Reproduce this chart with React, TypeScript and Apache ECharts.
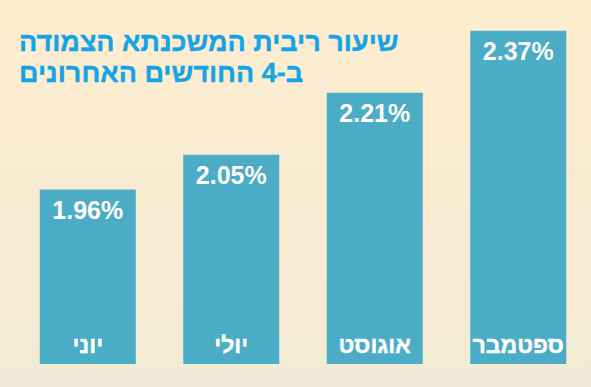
import React, { useEffect, useRef } from "react";
import * as echarts from "echarts";

const categories = ["יוני", "יולי", "אוגוסט", "ספטמבר"];
const rates = [1.96, 2.05, 2.21, 2.37];
const titleLines = ["שיעור ריבית המשכנתא הצמודה", "ב-4 החודשים האחרונים"];

export default function App() {
  const ref = useRef<HTMLDivElement>(null);
  useEffect(() => {
    if (!ref.current) return;
    const chart = echarts.init(ref.current, null, { renderer: "svg" });
    chart.setOption({
      animation: false,
      backgroundColor: new echarts.graphic.LinearGradient(0, 0, 0, 1, [
        { offset: 0, color: "#FFEDCF" },
        { offset: 1, color: "#F2EAD6" },
      ]),
      title: {
        text: titleLines.join("\n"),
        left: 14,
        top: 21,
        textStyle: {
          fontFamily: "Liberation Sans",
          fontWeight: "bold",
          fontSize: 27,
          lineHeight: 31,
          color: "#14A3E6",
          textBorderColor: "#14A3E6",
          textBorderWidth: 0.4,
        },
      },
      grid: { left: 16, right: 1, top: 19, bottom: 23 },
      xAxis: {
        type: "category",
        data: categories,
        z: 5,
        axisLine: { show: false },
        axisTick: { show: false },
        axisLabel: {
          inside: true,
          margin: 8,
          color: "#FFFFFF",
          fontFamily: "Liberation Sans",
          fontWeight: "bold",
          fontSize: 23,
          textBorderColor: "#FFFFFF",
          textBorderWidth: 0.4,
        },
      },
      yAxis: {
        type: "value",
        min: 1.51,
        max: 2.4,
        show: false,
        splitLine: { show: false },
      },
      series: [
        {
          type: "bar",
          data: rates,
          barWidth: 96,
          itemStyle: { color: "#4BACC6" },
          label: {
            show: true,
            position: "insideTop",
            distance: 8,
            color: "#FFFFFF",
            fontFamily: "Liberation Sans",
            fontWeight: "bold",
            fontSize: 25,
            formatter: (p: any) => p.value.toFixed(2) + "%",
          },
        },
      ],
    });
    return () => chart.dispose();
  }, []);
  return <div ref={ref} style={{ width: 591, height: 387, position: "fixed", left: 0, top: 0 }} />;
}
